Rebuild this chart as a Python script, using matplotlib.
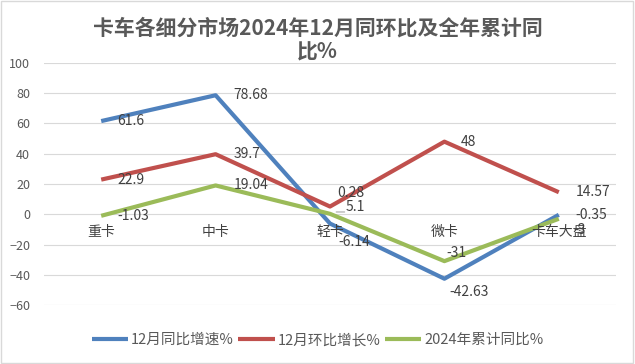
import matplotlib.pyplot as plt
from matplotlib.patches import Rectangle

plt.rcParams['font.family'] = ['Noto Sans CJK SC', 'DejaVu Sans']

categories = ['重卡', '中卡', '轻卡', '微卡', '卡车大盘']
yoy_dec = [61.6, 78.68, -6.14, -42.63, -0.35]      # 12月同比增速%
mom_dec = [22.9, 39.7, 5.1, 48, 14.57]             # 12月环比增长%
yoy_year = [-1.03, 19.04, 0.28, -31, -3]           # 2024年累计同比%
series_names = ['12月同比增速%', '12月环比增长%', '2024年累计同比%']
colors = ['#4F81BD', '#C0504D', '#9BBB59']
yticks = [-60, -40, -20, 0, 20, 40, 60, 80, 100]

# label offsets in pixels (dx, dy), Excel-like placement
offsets = [
    [(16, 0), (18, 0), (8, -18), (5, -13), (17, 0)],
    [(16, 0), (18, 0), (16, 0), (16, 0), (17, 0)],
    [(16, 0), (18, 0), (7, 21), (2, 8), (15, -11)],
]
texts = [
    ['61.6', '78.68', '-6.14', '-42.63', '-0.35'],
    ['22.9', '39.7', '5.1', '48', '14.57'],
    ['-1.03', '19.04', '0.28', '-31', '-3'],
]

grey = '#595959'
fig = plt.figure(figsize=(6.35, 3.64), dpi=100)
fig.patches.append(Rectangle((0.002, 0.003), 0.995, 0.993, transform=fig.transFigure,
                             fill=False, edgecolor='#D9D9D9', linewidth=1))
ax = fig.add_axes([44 / 635, 59 / 364, 572 / 635, 242 / 364])

x = list(range(len(categories)))
data = [yoy_dec, mom_dec, yoy_year]
for vals, c, name, offs, labs in zip(data, colors, series_names, offsets, texts):
    ax.plot(x, vals, color=c, linewidth=3, label=name, solid_capstyle='butt')
    for xi, v, (dx, dy), t in zip(x, vals, offs, labs):
        ax.annotate(t, (xi, v), xytext=(dx, dy), textcoords='offset pixels',
                    ha='left', va='center', fontsize=10, color='#404040')

# leader line for the moved label "5.1"
ax.annotate('', (2.03, 1.5), xytext=(14, 0), textcoords='offset pixels',
            arrowprops=dict(arrowstyle='-', color='#A6A6A6', lw=0.8))

# category labels sit at the zero line
for xi, cat in zip(x, categories):
    ax.annotate(cat, (xi, 0), xytext=(0, -18), textcoords='offset pixels',
                ha='center', va='center', fontsize=10, color='#404040')

ax.set_xlim(-0.5, len(categories) - 0.5)
ax.set_ylim(-60, 100)
ax.set_yticks(yticks)
ax.set_xticks([])
ax.tick_params(axis='y', length=0, labelsize=9, labelcolor=grey, pad=10)
ax.grid(axis='y', color='#D9D9D9', linewidth=0.8)
ax.set_axisbelow(True)
for s in ax.spines.values():
    s.set_visible(False)

fig.text(0.5, 1 - 28 / 364, '卡车各细分市场2024年12月同环比及全年累计同', ha='center', va='center',
         fontsize=15, fontweight='bold', color=grey)
fig.text(0.5, 1 - 52 / 364, '比%', ha='center', va='center',
         fontsize=15, fontweight='bold', color=grey)

fig.legend(loc='center', bbox_to_anchor=(0.5, 1 - 340 / 364), ncol=3, frameon=False,
           fontsize=10.5, labelcolor=grey, handlelength=2.5, handletextpad=0.2,
           columnspacing=0.3)

fig.savefig('out.png', dpi=100)
